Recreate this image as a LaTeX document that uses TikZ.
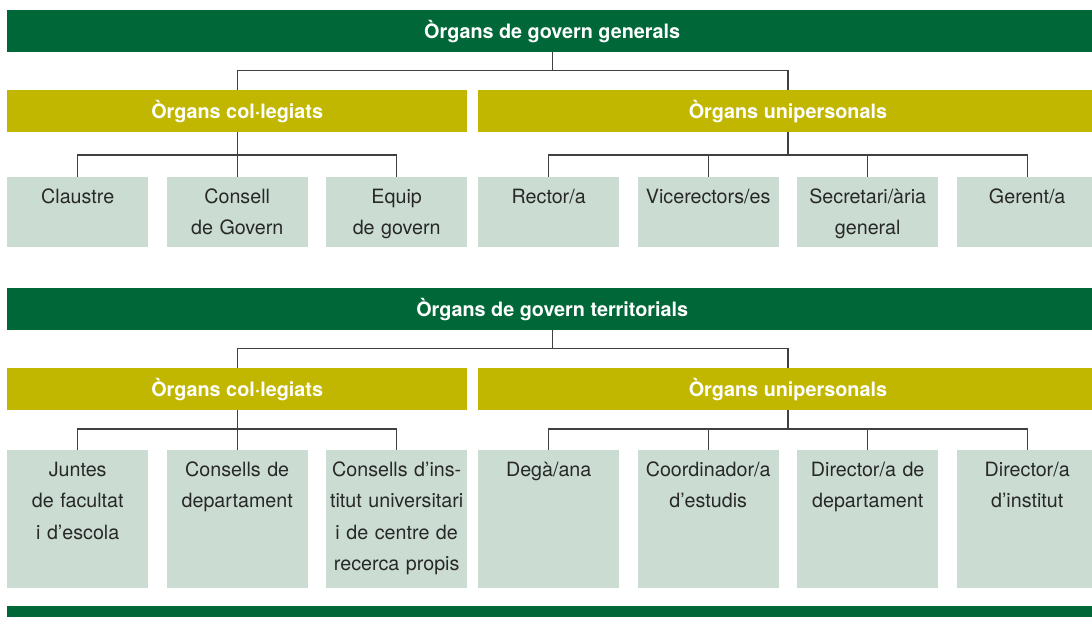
\documentclass[tikz,border=0pt]{standalone}
\usepackage{fontspec}
\setmainfont{TeX Gyre Heros}
\definecolor{dgreen}{RGB}{0,104,56}
\definecolor{olivey}{RGB}{194,183,0}
\definecolor{leafc}{RGB}{203,221,211}
\definecolor{linec}{RGB}{64,64,64}
\definecolor{txtc}{RGB}{40,40,40}
\tikzset{
  headbar/.style={fill=dgreen, draw=none, inner sep=0pt, minimum height=42pt, anchor=north west,
    text=white, font=\fontsize{19.8}{23}\selectfont\bfseries, text height=14.2pt, text depth=0pt},
  subbar/.style={headbar, fill=olivey},
  leafbox/.style={fill=leafc, draw=none, inner sep=0pt, anchor=north west, text width=141pt,
    align=center, text height=26pt, font=\fontsize{19.7}{31.5}\selectfont, text=txtc},
  leafA/.style={leafbox, text depth=44pt},
  leafB/.style={leafbox, text depth=112pt},
  conn/.style={draw=linec, line width=1.3pt}
}
\begin{document}
\begin{tikzpicture}[x=1pt,y=-1pt]
\useasboundingbox (0,0) rectangle (1092,617);
% Section 1
\node[headbar, minimum width=1090pt] (g1) at (7,10) {Òrgans de govern generals};
\node[subbar, minimum width=460pt] (c1) at (7,90) {Òrgans col·legiats};
\node[subbar, minimum width=619.5pt] (u1) at (478,90) {Òrgans unipersonals};
\node[leafA] (l1) at (7,177) {Claustre};
\node[leafA] (l2) at (166.5,177) {Consell\\de Govern};
\node[leafA] (l3) at (326,177) {Equip\\de govern};
\node[leafA] (r1) at (478,177) {Rector/a};
\node[leafA] (r2) at (637.5,177) {Vicerectors/es};
\node[leafA] (r3) at (797,177) {Secretari/ària\\general};
\node[leafA] (r4) at (956.5,177) {Gerent/a};
\draw[conn] (g1.south) -- ++(0,18) coordinate (j1);
\draw[conn] (c1.north) |- (j1) -| (u1.north);
\draw[conn] (c1.south) -- (l2.north);
\draw[conn] (l1.north) -- ++(0,-22) -| (l3.north);
\draw[conn] (u1.south) -- ++(0,23);
\draw[conn] (r1.north) -- ++(0,-22) -| (r4.north);
\draw[conn] (r2.north) -- ++(0,-22);
\draw[conn] (r3.north) -- ++(0,-22);
% Section 2
\node[headbar, minimum width=1090pt] (g2) at (7,288) {Òrgans de govern territorials};
\node[subbar, minimum width=460pt] (c2) at (7,368) {Òrgans col·legiats};
\node[subbar, minimum width=619.5pt] (u2) at (478,368) {Òrgans unipersonals};
\node[leafB] (m1) at (7,450) {Juntes\\de facultat\\i d’escola};
\node[leafB] (m2) at (166.5,450) {Consells de\\departament};
\node[leafB] (m3) at (326,450) {Consells d’ins-\\titut universitari\\i de centre de\\recerca propis};
\node[leafB] (s1) at (478,450) {Degà/ana};
\node[leafB] (s2) at (637.5,450) {Coordinador/a\\d’estudis};
\node[leafB] (s3) at (797,450) {Director/a de\\departament};
\node[leafB] (s4) at (956.5,450) {Director/a\\d’institut};
\draw[conn] (g2.south) -- ++(0,18) coordinate (j2);
\draw[conn] (c2.north) |- (j2) -| (u2.north);
\draw[conn] (c2.south) -- (m2.north);
\draw[conn] (m1.north) -- ++(0,-21) -| (m3.north);
\draw[conn] (u2.south) -- ++(0,19);
\draw[conn] (s1.north) -- ++(0,-21) -| (s4.north);
\draw[conn] (s2.north) -- ++(0,-21);
\draw[conn] (s3.north) -- ++(0,-21);
% bottom bar
\node[headbar, minimum width=1090pt] (g3) at (7,606) {};
\end{tikzpicture}
\end{document}
